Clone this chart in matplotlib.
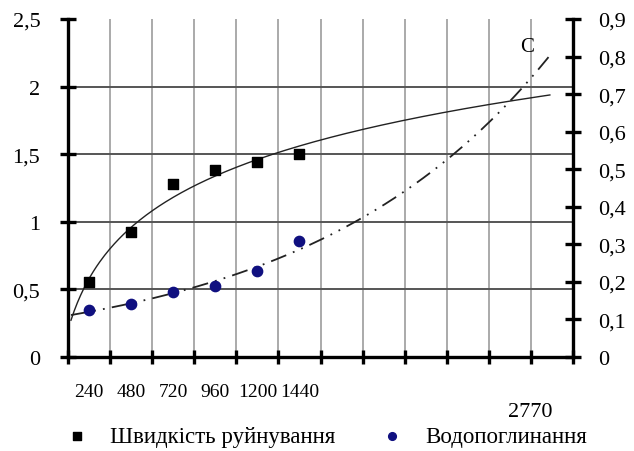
import matplotlib.pyplot as plt
import numpy as np
from matplotlib.ticker import FuncFormatter

# час випробування, хв (категорії осі X)
time_labels = ['240', '480', '720', '960', '1200', '1440']
n_cats = 12

# швидкість руйнування (ліва вісь)
speed = [0.555, 0.925, 1.28, 1.38, 1.44, 1.50]
# водопоглинання (права вісь)
water = [0.125, 0.141, 0.173, 0.189, 0.229, 0.309]

plt.rcParams['font.family'] = ['Liberation Serif', 'DejaVu Serif']


def comma(v, pos):
    s = f'{v:g}'
    return s.replace('.', ',')


fig = plt.figure(figsize=(6.34, 4.52), dpi=100)
ax = fig.add_axes([0.1073, 0.2080, 0.7965, 0.7478])
ax2 = ax.twinx()

x = np.arange(1, len(speed) + 1)

# логарифмічний тренд для швидкості руйнування
a, b = np.polyfit(np.log(x), speed, 1)
xt = np.linspace(0.57, 11.95, 300)
ax.plot(xt, a * np.log(xt) + b, color='#222222', lw=1.0, zorder=3)

# експоненційний тренд для водопоглинання
k, c = np.polyfit(x, np.log(water), 1)
ax2.plot(xt, np.exp(c + k * xt), color='#222222', lw=1.3,
         linestyle=(0, (9, 4, 1, 4, 1, 4)), zorder=3)

h1 = ax.scatter(x, speed, marker='s', s=55, color='black', zorder=5,
                label='Швидкість руйнування')
h2 = ax2.scatter(x, water, marker='o', s=55, color='#101080', zorder=5,
                 label='Водопоглинання')

ax.set_xlim(0.5, n_cats + 0.5)
ax.set_ylim(0, 2.5)
ax2.set_ylim(0, 0.9)

ax.set_yticks(np.arange(0, 2.51, 0.5))
ax2.set_yticks(np.arange(0, 0.91, 0.1))
ax.yaxis.set_major_formatter(FuncFormatter(comma))
ax2.yaxis.set_major_formatter(FuncFormatter(comma))

ax.set_xticks(x)
ax.set_xticklabels(time_labels)
ax.set_xticks(np.arange(0.5, n_cats + 0.51, 1), minor=True)

# сітка
ax.grid(True, axis='y', color='#555555', lw=1.4)
ax.get_ygridlines()[-1].set_visible(False)
ax.grid(True, axis='x', which='minor', color='#aaaaaa', lw=1.4)
ax.set_axisbelow(True)

for a_ in (ax, ax2):
    a_.spines['top'].set_visible(False)
    for s in ('left', 'right', 'bottom'):
        a_.spines[s].set_linewidth(2.4)
ax.spines['right'].set_visible(False)
ax2.spines['left'].set_visible(False)
ax2.spines['bottom'].set_visible(False)

ax.tick_params(axis='y', direction='inout', length=12, width=2.4,
               labelsize=16, pad=14)
ax2.tick_params(axis='y', direction='inout', length=12, width=2.4,
                labelsize=16, pad=12)
ax.tick_params(axis='x', which='major', length=0, labelsize=14, pad=19)
ax.tick_params(axis='x', which='minor', direction='inout', length=10,
               width=2.4)

ax.text(11.41, 2.30, 'C', fontsize=15, ha='center', va='center')
ax.text(11.48, -0.40, '2770', fontsize=16, ha='center', va='center',
        clip_on=False)

fig.legend(handles=[h1, h2], loc='center left', bbox_to_anchor=(0.0994, 0.033),
           ncol=2, frameon=False, fontsize=16.5, handletextpad=0.84,
           columnspacing=1.9, markerscale=0.75, handlelength=1.2,
           borderaxespad=0, borderpad=0)

fig.savefig('out.png', dpi=100)
